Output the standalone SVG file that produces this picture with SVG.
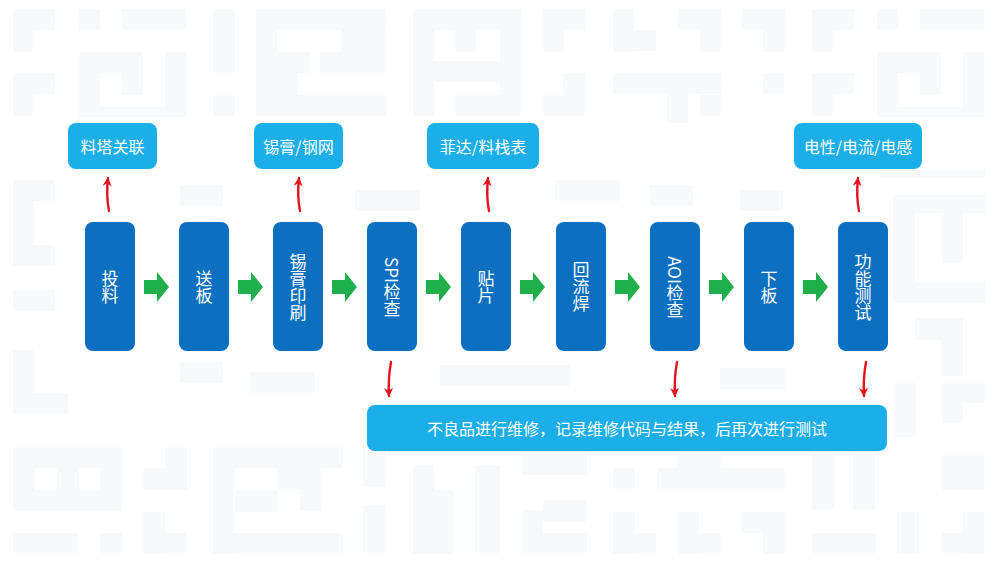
<svg xmlns="http://www.w3.org/2000/svg" width="1000" height="563" viewBox="0 0 1000 563">
<style>
.bgp rect{fill:#f8f9fa}
.proc{fill:#0c6fc0}
.note{fill:#1caee8}
.t{font-family:"Noto Sans CJK SC","Liberation Sans",sans-serif;fill:#ffffff;font-size:16px;text-anchor:middle;dominant-baseline:central}
.vt{font-family:"Noto Sans CJK SC","Liberation Sans",sans-serif;fill:#ffffff;font-size:17px;text-anchor:middle;writing-mode:vertical-rl}
.garrow{fill:#1fb04c}
.rarrow{fill:none;stroke:#e3141b;stroke-width:2.4;stroke-linecap:round}
</style>
<defs>
<marker id="rhead" viewBox="0 0 10 10" refX="9" refY="5" markerWidth="11" markerHeight="9" markerUnits="userSpaceOnUse" orient="auto">
<path d="M0,0 L10,5 L0,10 L3,5 z" fill="#e3141b"/>
</marker>
</defs>
<rect x="0" y="0" width="1000" height="563" fill="#ffffff"/>
<g id="background" class="bgp">
<rect x="13" y="9" width="42" height="21"/><rect x="13" y="9" width="20" height="43"/>
<rect x="13" y="73" width="42" height="21"/><rect x="13" y="73" width="20" height="43"/>
<rect x="79" y="9" width="21" height="21"/><rect x="122" y="9" width="64" height="21"/>
<rect x="79" y="52" width="64" height="21"/><rect x="79" y="52" width="21" height="64"/>
<rect x="79" y="107" width="107" height="10"/><rect x="122" y="52" width="21" height="43"/>
<rect x="165" y="52" width="21" height="64"/>
<rect x="213" y="9" width="22" height="64"/><rect x="213" y="95" width="22" height="21"/>
<rect x="256" y="9" width="130" height="21"/><rect x="256" y="9" width="21" height="107"/>
<rect x="256" y="95" width="130" height="21"/><rect x="363" y="9" width="22" height="64"/>
<rect x="277" y="52" width="33" height="21"/><rect x="277" y="52" width="21" height="43"/>
<rect x="342" y="30" width="21" height="43"/><rect x="320" y="52" width="43" height="21"/>
<rect x="413" y="9" width="21" height="107"/><rect x="413" y="9" width="87" height="21"/>
<rect x="455" y="30" width="21" height="22"/><rect x="433" y="61" width="67" height="21"/>
<rect x="455" y="95" width="45" height="21"/>
<rect x="500" y="9" width="21" height="107"/>
<rect x="543" y="9" width="42" height="21"/><rect x="543" y="9" width="21" height="43"/>
<rect x="563" y="73" width="22" height="43"/><rect x="543" y="95" width="42" height="21"/>
<rect x="613" y="9" width="21" height="43"/><rect x="613" y="30" width="43" height="21"/>
<rect x="678" y="9" width="43" height="21"/><rect x="700" y="9" width="21" height="43"/>
<rect x="742" y="9" width="43" height="21"/><rect x="763" y="9" width="22" height="43"/>
<rect x="613" y="73" width="108" height="21"/><rect x="667" y="73" width="21" height="50"/>
<rect x="700" y="95" width="21" height="21"/>
<rect x="763" y="73" width="21" height="21"/>
<rect x="812" y="9" width="42" height="21"/><rect x="812" y="9" width="21" height="43"/>
<rect x="812" y="73" width="42" height="21"/><rect x="812" y="73" width="21" height="43"/>
<rect x="877" y="9" width="21" height="21"/><rect x="920" y="9" width="64" height="21"/>
<rect x="877" y="52" width="64" height="21"/><rect x="877" y="52" width="21" height="64"/>
<rect x="877" y="107" width="107" height="10"/><rect x="920" y="52" width="21" height="43"/>
<rect x="963" y="52" width="21" height="64"/>
<rect x="13" y="180" width="42" height="21"/><rect x="13" y="180" width="21" height="86"/>
<rect x="13" y="245" width="42" height="21"/><rect x="13" y="290" width="42" height="21"/>
<rect x="13" y="350" width="21" height="64"/><rect x="13" y="393" width="55" height="21"/>
<rect x="180" y="185" width="43" height="21"/><rect x="355" y="190" width="65" height="21"/>
<rect x="555" y="180" width="65" height="21"/><rect x="650" y="185" width="43" height="21"/>
<rect x="740" y="190" width="43" height="21"/>
<rect x="180" y="362" width="43" height="21"/><rect x="250" y="372" width="65" height="21"/>
<rect x="440" y="365" width="130" height="21"/><rect x="720" y="368" width="65" height="21"/>
<rect x="880" y="170" width="105" height="8"/>
<rect x="893" y="195" width="92" height="18"/><rect x="893" y="195" width="22" height="108"/>
<rect x="893" y="282" width="92" height="21"/><rect x="942" y="213" width="21" height="50"/>
<rect x="915" y="318" width="48" height="22"/><rect x="942" y="318" width="21" height="58"/>
<rect x="895" y="383" width="21" height="54"/><rect x="942" y="383" width="43" height="20"/>
<rect x="942" y="383" width="21" height="40"/>
<rect x="13" y="447" width="109" height="21"/><rect x="13" y="447" width="21" height="64"/>
<rect x="13" y="490" width="109" height="21"/><rect x="100" y="447" width="22" height="43"/>
<rect x="57" y="468" width="22" height="22"/>
<rect x="13" y="533" width="65" height="20"/><rect x="100" y="533" width="22" height="20"/>
<rect x="165" y="447" width="22" height="43"/><rect x="143" y="468" width="43" height="22"/>
<rect x="143" y="512" width="22" height="42"/><rect x="143" y="533" width="43" height="20"/>
<rect x="213" y="447" width="130" height="21"/><rect x="213" y="447" width="21" height="107"/>
<rect x="213" y="533" width="130" height="20"/><rect x="235" y="490" width="43" height="22"/>
<rect x="300" y="468" width="21" height="43"/><rect x="278" y="468" width="43" height="21"/>
<rect x="363" y="447" width="22" height="40"/><rect x="363" y="505" width="22" height="48"/>
<rect x="413" y="465" width="21" height="89"/><rect x="433" y="490" width="21" height="64"/>
<rect x="475" y="465" width="25" height="88"/>
<rect x="522" y="455" width="65" height="20"/><rect x="543" y="500" width="43" height="22"/>
<rect x="522" y="510" width="21" height="43"/><rect x="522" y="533" width="65" height="20"/>
<rect x="613" y="468" width="22" height="21"/><rect x="613" y="512" width="22" height="42"/>
<rect x="613" y="533" width="43" height="20"/>
<rect x="657" y="468" width="128" height="21"/><rect x="678" y="455" width="43" height="13"/>
<rect x="678" y="512" width="21" height="42"/><rect x="678" y="533" width="43" height="20"/>
<rect x="742" y="512" width="43" height="21"/><rect x="763" y="512" width="22" height="42"/>
<rect x="812" y="455" width="22" height="55"/><rect x="853" y="455" width="22" height="55"/>
<rect x="812" y="533" width="64" height="20"/><rect x="897" y="512" width="22" height="42"/>
<rect x="942" y="455" width="42" height="35"/><rect x="963" y="512" width="21" height="42"/>
<rect x="942" y="533" width="42" height="20"/>
</g>
<g id="connectors">
<polygon class="garrow" points="144,280 157,280 157,272 169,287 157,302 157,294 144,294"/>
<polygon class="garrow" points="238,280 251,280 251,272 263,287 251,302 251,294 238,294"/>
<polygon class="garrow" points="332,280 345,280 345,272 357,287 345,302 345,294 332,294"/>
<polygon class="garrow" points="426,280 439,280 439,272 451,287 439,302 439,294 426,294"/>
<polygon class="garrow" points="520,280 533,280 533,272 545,287 533,302 533,294 520,294"/>
<polygon class="garrow" points="615,280 628,280 628,272 640,287 628,302 628,294 615,294"/>
<polygon class="garrow" points="709,280 722,280 722,272 734,287 722,302 722,294 709,294"/>
<polygon class="garrow" points="803,280 816,280 816,272 828,287 816,302 816,294 803,294"/>
<path class="rarrow" d="M109,211 Q106,196 108,178" marker-end="url(#rhead)"/>
<path class="rarrow" d="M300,211 Q297,196 299,178" marker-end="url(#rhead)"/>
<path class="rarrow" d="M489,211 Q486,196 488,178" marker-end="url(#rhead)"/>
<path class="rarrow" d="M859,211 Q856,196 858,178" marker-end="url(#rhead)"/>
<path class="rarrow" d="M391,362 Q388,378 389,396" marker-end="url(#rhead)"/>
<path class="rarrow" d="M677,362 Q674,378 675,396" marker-end="url(#rhead)"/>
<path class="rarrow" d="M866,362 Q863,378 864,396" marker-end="url(#rhead)"/>
</g>
<g id="note-liaota"><rect class="note" x="68" y="123" width="89" height="46" rx="8"/><text class="t" x="112.5" y="146">料塔关联</text></g>
<g id="note-xigao"><rect class="note" x="254" y="123" width="89" height="46" rx="8"/><text class="t" x="298.5" y="146">锡膏/钢网</text></g>
<g id="note-feida"><rect class="note" x="427" y="123" width="112" height="46" rx="8"/><text class="t" x="483" y="146">菲达/料栈表</text></g>
<g id="note-dianxing"><rect class="note" x="794" y="123" width="128" height="46" rx="8"/><text class="t" x="858" y="146">电性/电流/电感</text></g>
<g id="step-touliao"><rect class="proc" x="85" y="222" width="50" height="129" rx="8"/><text class="vt" x="110" y="287">投料</text></g>
<g id="step-songban"><rect class="proc" x="179" y="222" width="50" height="129" rx="8"/><text class="vt" x="204" y="287">送板</text></g>
<g id="step-xigaoyinshua"><rect class="proc" x="273" y="222" width="50" height="129" rx="8"/><text class="vt" x="298" y="287">锡膏印刷</text></g>
<g id="step-spi"><rect class="proc" x="367" y="222" width="50" height="129" rx="8"/><text class="vt" x="392" y="287">SPI检查</text></g>
<g id="step-tiepian"><rect class="proc" x="461" y="222" width="50" height="129" rx="8"/><text class="vt" x="486" y="287">贴片</text></g>
<g id="step-huiliuhan"><rect class="proc" x="556" y="222" width="50" height="129" rx="8"/><text class="vt" x="581" y="287">回流焊</text></g>
<g id="step-aoi"><rect class="proc" x="650" y="222" width="50" height="129" rx="8"/><text class="vt" x="675" y="287">AOI检查</text></g>
<g id="step-xiaban"><rect class="proc" x="744" y="222" width="50" height="129" rx="8"/><text class="vt" x="769" y="287">下板</text></g>
<g id="step-gongneng"><rect class="proc" x="838" y="222" width="50" height="129" rx="8"/><text class="vt" x="863" y="287">功能测试</text></g>
<g id="note-repair"><rect class="note" x="367" y="405" width="520" height="46" rx="8"/><text class="t" x="627" y="428">不良品进行维修，记录维修代码与结果，后再次进行测试</text></g>
</svg>
